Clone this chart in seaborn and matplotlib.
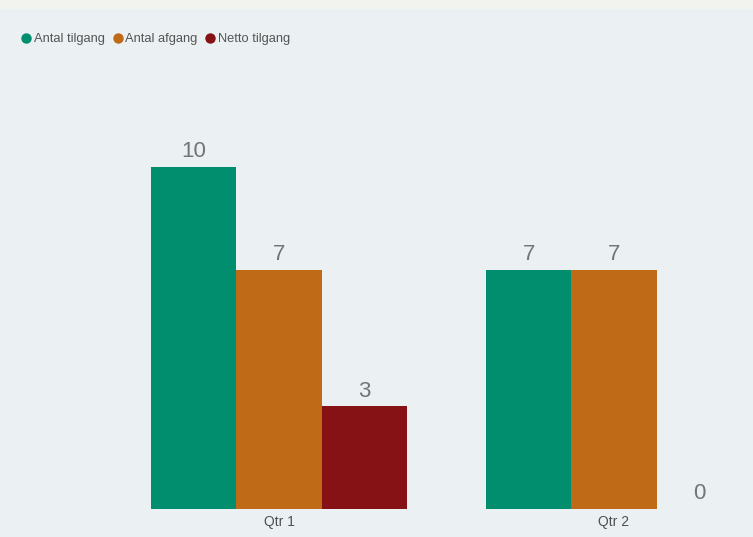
import pandas as pd
import matplotlib.pyplot as plt
import seaborn as sns
from matplotlib.patches import Rectangle
from matplotlib.lines import Line2D

# data
quarters = ["Qtr 1", "Qtr 2"]
series = ["Antal tilgang", "Antal afgang", "Netto tilgang"]
tilgang = [10, 7]
afgang = [7, 7]
netto = [3, 0]
colors = ["#018E6E", "#BF6A17", "#861216"]

panel_bg = "#EBF0F2"
text_grey = "#747474"


def build_frame():
    rows = []
    for name, vals in zip(series, [tilgang, afgang, netto]):
        for q, v in zip(quarters, vals):
            rows.append({"quarter": q, "serie": name, "value": v})
    return pd.DataFrame(rows)


def main():
    df = build_frame()
    sns.set_style("white")
    plt.rcParams["font.family"] = ["Liberation Sans", "DejaVu Sans"]

    W, H = 753, 537
    fig = plt.figure(figsize=(W / 100, H / 100), dpi=100, facecolor=panel_bg)
    # thin lighter strip at the very top
    fig.patches.append(Rectangle((0, 1 - 9 / H), 1, 9 / H, transform=fig.transFigure,
                                 facecolor="#F2F2EE", edgecolor="none", zorder=0))

    base_px = 509
    top_px = 60
    ax = fig.add_axes([0, (H - base_px) / H, 1, (base_px - top_px) / H])
    ax.set_facecolor(panel_bg)

    sns.barplot(data=df, x="quarter", y="value", hue="serie", hue_order=series,
                palette=colors, width=0.764, saturation=1, ax=ax, legend=False,
                edgecolor="none")

    unit_px = 34.2
    ax.set_ylim(0, (base_px - top_px) / unit_px)
    ax.set_xlim(-279 / 335, (753 - 279) / 335)

    for cont in ax.containers:
        ax.bar_label(cont, fmt="%g", padding=3.5, fontsize=16, color=text_grey)

    ax.set_xlabel("")
    ax.set_ylabel("")
    ax.set_yticks([])
    ax.tick_params(axis="x", length=0, pad=4, labelsize=10, labelcolor="#505050")
    sns.despine(ax=ax, left=True, bottom=True)

    handles = [Line2D([], [], marker="o", linestyle="none", markersize=7.5,
                      markerfacecolor=c, markeredgecolor="none") for c in colors]
    leg = fig.legend(handles, series, loc="upper left", bbox_to_anchor=(0.02, 1 - 28 / H),
                     ncol=3, frameon=False, fontsize=9.3, handletextpad=0.15,
                     columnspacing=0.55, handlelength=0.9, borderaxespad=0)
    for t in leg.get_texts():
        t.set_color("#555555")

    fig.savefig("out.png", dpi=100, facecolor=panel_bg)
    plt.close(fig)


if __name__ == "__main__":
    main()
